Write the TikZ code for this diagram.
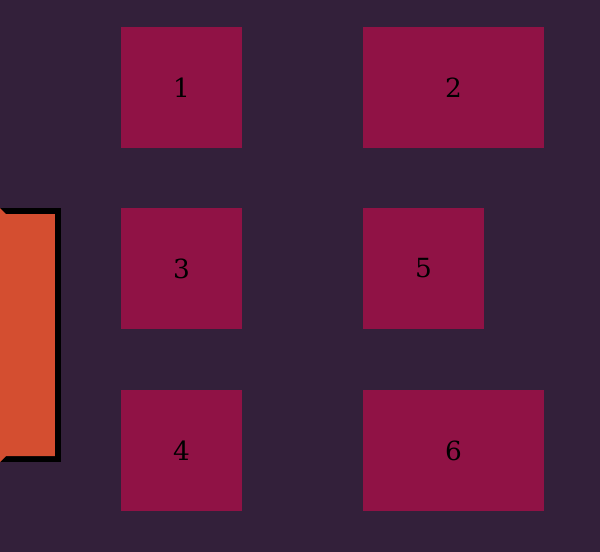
\documentclass[tikz,border=0pt]{standalone}
\usepackage{fontspec}
\setmainfont{DejaVu Serif}
\definecolor{fondo}{HTML}{33203A}
\definecolor{caja}{HTML}{901245}
\definecolor{naranja}{HTML}{D44E30}
\tikzstyle{bloque}= [rectangle,fill=caja,inner sep=0pt,minimum height=2.42cm,font=\fontsize{15}{18}\selectfont]
\tikzstyle{estrecho}= [bloque,minimum width=2.42cm]
\tikzstyle{ancho}= [bloque,minimum width=3.62cm]

\begin{document}
\begin{tikzpicture}[x=0.02cm,y=-0.02cm]

		\fill[fondo] (0,0) rectangle (600,552);
		\useasboundingbox (0,0) rectangle (600,552);

		\fill[black] (-10,208) rectangle (61,462);
		\fill[naranja] (0,208) -- (6,214) -- (55,214) -- (55,456) -- (6,456) -- (0,462) -- cycle;

		\node (a) at (181.5,87.5) [estrecho] {1};
		\node (b) at (453.5,87.5) [ancho] {2};
		\node (c) at (181.5,268.5) [estrecho] {3};
		\node (e) at (423.5,268.5) [estrecho] {5};
		\node (d) at (181.5,450.5) [estrecho] {4};
		\node (f) at (453.5,450.5) [ancho] {6};

	\end{tikzpicture}
\end{document}
